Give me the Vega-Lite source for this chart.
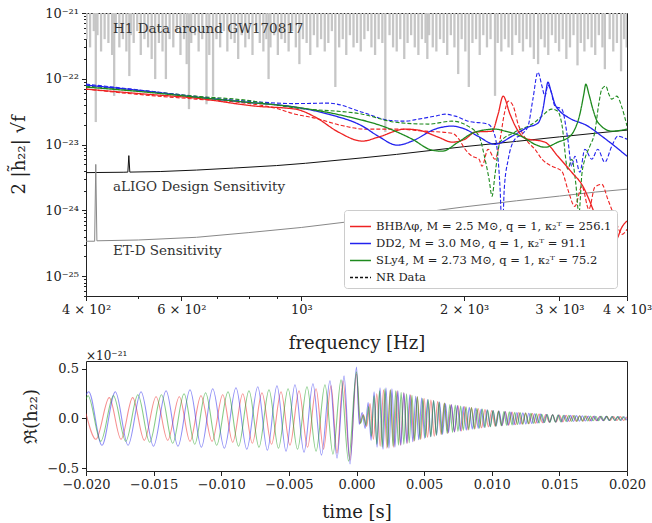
{
"$schema": "https://vega.github.io/schema/vega-lite/v6.json",
"padding": {"left": 10, "top": 6, "right": 0, "bottom": 0},
"spacing": -4,
"config": {
  "font": "DejaVu Serif",
  "view": {"stroke": "#222", "strokeWidth": 1},
  "axis": {"domain": false, "grid": false, "tickColor": "#222", "labelColor": "#222", "labelFont": "DejaVu Serif", "labelFontSize": 13, "titleFont": "DejaVu Serif", "titleFontSize": 18, "titleFontWeight": "normal", "titleColor": "#222", "labelPadding": 3}
},
"vconcat": [
{
  "width": 541, "height": 283,
  "layer": [
    {
      "data": {"values": [
        {"f":401,"a":4.0e-22},{"f":407,"a":3.0e-22},{"f":413.5,"a":5.3e-22},{"f":417,"a":2.2e-23},{"f":420,"a":4.6e-22},{"f":426.5,"a":2.6e-22},{"f":433,"a":4.0e-22},{"f":440,"a":3.5e-22},{"f":447,"a":2.3e-22},{"f":451,"a":5.5e-23},{"f":454,"a":6.1e-22},{"f":461,"a":3.0e-22},{"f":468,"a":4.0e-22},{"f":475,"a":2.6e-22},{"f":481,"a":1.1e-22},{"f":484,"a":4.6e-22},{"f":490,"a":3.5e-22},{"f":497.5,"a":5.3e-22},{"f":505,"a":2.3e-22},{"f":513,"a":4.0e-22},{"f":521,"a":3.0e-22},{"f":529,"a":2.0e-22},{"f":537,"a":9.9e-23},{"f":545.5,"a":3.5e-22},{"f":554,"a":2.6e-22},{"f":562,"a":9.9e-23},{"f":571,"a":4.0e-22},{"f":580,"a":3.0e-22},{"f":589,"a":5.3e-22},{"f":598,"a":2.3e-22},{"f":607,"a":4.0e-22},{"f":614,"a":1.67e-22},{"f":620,"a":3.46e-23},{"f":626,"a":3.5e-22},{"f":636,"a":4.6e-22},{"f":646,"a":2.6e-22},{"f":656,"a":4.0e-22},{"f":668,"a":4.1e-23},{"f":676,"a":2.3e-22},{"f":687,"a":5.5e-23},{"f":697,"a":4.0e-22},{"f":708,"a":3.0e-22},{"f":719,"a":5.3e-22},{"f":730,"a":2.6e-22},{"f":741.5,"a":4.0e-22},{"f":753,"a":3.5e-22},{"f":764.5,"a":2.0e-22},{"f":776,"a":4.6e-22},{"f":788,"a":3.0e-22},{"f":800,"a":4.0e-22},{"f":812.5,"a":2.3e-22},{"f":825,"a":5.3e-22},{"f":838,"a":3.5e-22},{"f":851,"a":2.6e-22},{"f":862,"a":4.0e-22},{"f":870,"a":9.9e-23},{"f":877,"a":3.0e-22},{"f":891,"a":4.6e-22},{"f":905,"a":2.3e-22},{"f":919,"a":4.0e-22},{"f":933,"a":3.5e-22},{"f":947.5,"a":2.6e-22},{"f":962,"a":5.3e-22},{"f":977,"a":3.0e-22},{"f":992,"a":1.67e-22},{"f":1007,"a":4.0e-22},{"f":1023,"a":3.5e-22},{"f":1039,"a":2.3e-22},{"f":1055,"a":4.6e-22},{"f":1071,"a":3.0e-22},{"f":1088,"a":4.0e-22},{"f":1105,"a":2.6e-22},{"f":1122,"a":3.5e-22},{"f":1139,"a":5.3e-22},{"f":1156,"a":7.5e-23},{"f":1175,"a":3.0e-22},{"f":1193,"a":4.0e-22},{"f":1211,"a":2.3e-22},{"f":1230,"a":4.6e-22},{"f":1249,"a":3.0e-22},{"f":1268,"a":3.5e-22},{"f":1288,"a":2.6e-22},{"f":1308,"a":4.0e-22},{"f":1328,"a":5.3e-22},{"f":1348,"a":3.0e-22},{"f":1369,"a":2.3e-22},{"f":1390,"a":4.0e-22},{"f":1412,"a":3.5e-22},{"f":1430,"a":1.55e-23},{"f":1456,"a":4.6e-22},{"f":1478,"a":3.0e-22},{"f":1501,"a":2.6e-22},{"f":1524,"a":4.0e-22},{"f":1550,"a":2.0e-22},{"f":1572,"a":3.5e-22},{"f":1596,"a":4.6e-22},{"f":1621,"a":3.0e-22},{"f":1646,"a":2.3e-22},{"f":1671,"a":4.0e-22},{"f":1697,"a":3.5e-22},{"f":1710,"a":2.0e-22},{"f":1723,"a":4.6e-22},{"f":1750,"a":3.0e-22},{"f":1777,"a":2.6e-22},{"f":1805,"a":4.0e-22},{"f":1833,"a":3.5e-22},{"f":1861,"a":2.3e-22},{"f":1890,"a":4.6e-22},{"f":1919,"a":3.0e-22},{"f":1950,"a":1.18e-22},{"f":1979,"a":4.0e-22},{"f":2010,"a":2.6e-22},{"f":2040,"a":7.5e-23},{"f":2072,"a":3.5e-22},{"f":2104,"a":4.0e-22},{"f":2137,"a":2.3e-22},{"f":2170,"a":4.6e-22},{"f":2204,"a":3.0e-22},{"f":2238,"a":4.0e-22},{"f":2281,"a":5.5e-23},{"f":2307,"a":3.5e-22},{"f":2343,"a":2.6e-22},{"f":2379,"a":4.0e-22},{"f":2416,"a":3.0e-22},{"f":2454,"a":2.3e-22},{"f":2492,"a":4.6e-22},{"f":2530,"a":3.5e-22},{"f":2569,"a":2.6e-22},{"f":2609,"a":4.0e-22},{"f":2650,"a":3.0e-22},{"f":2691,"a":2.0e-22},{"f":2740,"a":1.67e-22},{"f":2775,"a":4.0e-22},{"f":2818,"a":3.0e-22},{"f":2861,"a":2.3e-22},{"f":2906,"a":4.6e-22},{"f":2951,"a":3.5e-22},{"f":2996,"a":2.6e-22},{"f":3043,"a":4.0e-22},{"f":3090,"a":2.0e-22},{"f":3138,"a":3.0e-22},{"f":3186,"a":4.6e-22},{"f":3240,"a":1.6e-22},{"f":3286,"a":3.5e-22},{"f":3337,"a":2.6e-22},{"f":3388,"a":4.0e-22},{"f":3441,"a":3.0e-22},{"f":3494,"a":2.3e-22},{"f":3548,"a":4.6e-22},{"f":3603,"a":3.0e-22},{"f":3640,"a":1.4e-22},{"f":3716,"a":4.0e-22},{"f":3773,"a":2.6e-22},{"f":3832,"a":3.5e-22},{"f":3900,"a":1.3e-22},{"f":3951,"a":4.0e-22},{"f":3995,"a":3.0e-22}
      ]},
      "mark": {"type": "rule", "color": "#c6c6c6", "strokeWidth": 2.3, "clip": true},
      "encoding": {
        "x": {"field": "f", "type": "quantitative", "scale": {"type": "log", "domain": [400, 4000], "nice": false},
          "axis": {"title": "frequency [Hz]", "values": [400,500,600,700,800,900,1000,2000,3000,4000],
            "labelExpr": "datum.value == 400 ? '4 × 10²' : datum.value == 600 ? '6 × 10²' : datum.value == 1000 ? '10³' : datum.value == 2000 ? '2 × 10³' : datum.value == 3000 ? '3 × 10³' : datum.value == 4000 ? '4 × 10³' : ''",
            "tickSize": {"condition": {"test": "datum.value == 400 || datum.value == 600 || datum.value == 1000 || datum.value == 2000 || datum.value == 3000 || datum.value == 4000", "value": 4.5}, "value": 2.5},
            "labelOverlap": false, "labelFlush": false, "titlePadding": 18}},
        "y": {"field": "a", "type": "quantitative", "scale": {"type": "log", "domain": [5e-26, 1e-21], "nice": false},
          "axis": {"title": "2 |h̃₂₂| √f", "values": [5e-26,6e-26,7e-26,8e-26,9e-26,1e-25,2e-25,3e-25,4e-25,5e-25,6e-25,7e-25,8e-25,9e-25,1e-24,2e-24,3e-24,4e-24,5e-24,6e-24,7e-24,8e-24,9e-24,1e-23,2e-23,3e-23,4e-23,5e-23,6e-23,7e-23,8e-23,9e-23,1e-22,2e-22,3e-22,4e-22,5e-22,6e-22,7e-22,8e-22,9e-22,1e-21],
            "labelExpr": "datum.value == 1e-21 ? '10⁻²¹' : datum.value == 1e-22 ? '10⁻²²' : datum.value == 1e-23 ? '10⁻²³' : datum.value == 1e-24 ? '10⁻²⁴' : datum.value == 1e-25 ? '10⁻²⁵' : ''",
            "tickSize": {"condition": {"test": "datum.value == 1e-21 || datum.value == 1e-22 || datum.value == 1e-23 || datum.value == 1e-24 || datum.value == 1e-25", "value": 4.5}, "value": 2.5},
            "labelOverlap": false, "titlePadding": 16}},
        "y2": {"datum": 1e-21}
      }
    },
    {
      "data": {"values": [
        {"f":400,"a":3.75e-24},{"f":470,"a":3.8e-24},{"f":478,"a":3.82e-24},{"f":480,"a":6.8e-24},{"f":482,"a":3.82e-24},{"f":550,"a":3.9e-24},{"f":640,"a":4.1e-24},{"f":750,"a":4.4e-24},{"f":900,"a":4.8e-24},{"f":1018,"a":5.2e-24},{"f":1300,"a":6.3e-24},{"f":1500,"a":7.1e-24},{"f":2000,"a":9.3e-24},{"f":2500,"a":1.12e-23},{"f":3000,"a":1.31e-23},{"f":3500,"a":1.49e-23},{"f":4000,"a":1.66e-23}
      ]},
      "mark": {"type": "line", "color": "#111", "strokeWidth": 1, "clip": true},
      "encoding": {
        "x": {"field": "f", "type": "quantitative", "scale": {"type": "log", "domain": [400, 4000], "nice": false}},
        "y": {"field": "a", "type": "quantitative", "scale": {"type": "log", "domain": [5e-26, 1e-21], "nice": false}}
      }
    },
    {
      "data": {"values": [
        {"f":400,"a":3.4e-25},{"f":415,"a":3.4e-25},{"f":417,"a":5.0e-24},{"f":419,"a":3.45e-25},{"f":500,"a":3.55e-25},{"f":640,"a":3.9e-25},{"f":800,"a":4.6e-25},{"f":1000,"a":5.5e-25},{"f":1200,"a":6.6e-25},{"f":1500,"a":8.3e-25},{"f":2000,"a":1.13e-24},{"f":2500,"a":1.4e-24},{"f":3000,"a":1.65e-24},{"f":3500,"a":1.9e-24},{"f":4000,"a":2.1e-24}
      ]},
      "mark": {"type": "line", "color": "#888", "strokeWidth": 1, "clip": true},
      "encoding": {
        "x": {"field": "f", "type": "quantitative", "scale": {"type": "log", "domain": [400, 4000], "nice": false}},
        "y": {"field": "a", "type": "quantitative", "scale": {"type": "log", "domain": [5e-26, 1e-21], "nice": false}}
      }
    },
    {
      "data": {"values": [
        {"m":"b","f":400,"a":8.3e-23},{"m":"b","f":516,"a":6.6e-23},{"m":"b","f":638,"a":5.4e-23},{"m":"b","f":789,"a":4.6e-23},{"m":"b","f":975,"a":4.2e-23},{"m":"b","f":1122,"a":4.27e-23},{"m":"b","f":1297,"a":3.11e-23},{"m":"b","f":1449,"a":2.35e-23},{"m":"b","f":1557,"a":2.27e-23},{"m":"b","f":1646,"a":2.44e-23},{"m":"b","f":1768,"a":2.71e-23},{"m":"b","f":1845,"a":2.9e-23},{"m":"b","f":1925,"a":2.71e-23},{"m":"b","f":2034,"a":2.27e-23},{"m":"b","f":2214,"a":2.05e-23},{"m":"b","f":2281,"a":1.34e-23},{"m":"b","f":2311,"a":6.0e-24},{"m":"b","f":2331,"a":2.09e-24},{"m":"b","f":2352,"a":3.63e-25},{"m":"b","f":2372,"a":2.09e-24},{"m":"b","f":2413,"a":6.0e-24},{"m":"b","f":2483,"a":1.21e-23},{"m":"b","f":2558,"a":1.44e-23},{"m":"b","f":2625,"a":1.91e-23},{"m":"b","f":2680,"a":4.91e-23},{"m":"b","f":2738,"a":1.26e-22},{"m":"b","f":2785,"a":7.74e-23},{"m":"b","f":2821,"a":5.45e-23},{"m":"b","f":2857,"a":8.02e-23},{"m":"b","f":2894,"a":6.5e-23},{"m":"b","f":2943,"a":3.84e-23},{"m":"b","f":3031,"a":3.46e-23},{"m":"b","f":3109,"a":1.21e-23},{"m":"b","f":3161,"a":4.69e-24},{"m":"b","f":3204,"a":6.66e-24},{"m":"b","f":3273,"a":3.8e-24},{"m":"b","f":3343,"a":8.51e-24},{"m":"b","f":3444,"a":6.0e-24},{"m":"b","f":3532,"a":8.51e-24},{"m":"b","f":3639,"a":5.4e-24},{"m":"b","f":3749,"a":9.46e-24},{"m":"b","f":3845,"a":1.34e-23},{"m":"b","f":4000,"a":1.21e-23},
        {"m":"r","f":400,"a":6.97e-23},{"m":"r","f":516,"a":5.65e-23},{"m":"r","f":638,"a":4.91e-23},{"m":"r","f":789,"a":4.27e-23},{"m":"r","f":896,"a":3.58e-23},{"m":"r","f":975,"a":2.9e-23},{"m":"r","f":1062,"a":2.52e-23},{"m":"r","f":1181,"a":1.97e-23},{"m":"r","f":1313,"a":1.72e-23},{"m":"r","f":1492,"a":1.72e-23},{"m":"r","f":1695,"a":1.6e-23},{"m":"r","f":1900,"a":1.49e-23},{"m":"r","f":1956,"a":1.21e-23},{"m":"r","f":2008,"a":8.51e-24},{"m":"r","f":2069,"a":6.66e-24},{"m":"r","f":2131,"a":6.0e-24},{"m":"r","f":2158,"a":4.69e-24},{"m":"r","f":2214,"a":8.51e-24},{"m":"r","f":2281,"a":6.0e-24},{"m":"r","f":2331,"a":1.21e-23},{"m":"r","f":2372,"a":2.9e-23},{"m":"r","f":2413,"a":4.58e-23},{"m":"r","f":2465,"a":3.84e-23},{"m":"r","f":2516,"a":2.05e-23},{"m":"r","f":2569,"a":1.44e-23},{"m":"r","f":2625,"a":1.09e-23},{"m":"r","f":2703,"a":8.51e-24},{"m":"r","f":2785,"a":6.0e-24},{"m":"r","f":2906,"a":4.69e-24},{"m":"r","f":3031,"a":3.94e-24},{"m":"r","f":3109,"a":2.09e-24},{"m":"r","f":3204,"a":1.15e-24},{"m":"r","f":3301,"a":2.33e-24},{"m":"r","f":3401,"a":1.04e-24},{"m":"r","f":3488,"a":2.25e-24},{"m":"r","f":3594,"a":2.49e-24},{"m":"r","f":3686,"a":1.48e-24},{"m":"r","f":3797,"a":7.85e-25},{"m":"r","f":3913,"a":4.32e-25},{"m":"r","f":4000,"a":5.15e-25},
        {"m":"g","f":400,"a":7.74e-23},{"m":"g","f":516,"a":6.5e-23},{"m":"g","f":638,"a":5.45e-23},{"m":"g","f":789,"a":4.74e-23},{"m":"g","f":975,"a":3.6e-23},{"m":"g","f":1297,"a":2.9e-23},{"m":"g","f":1492,"a":2.19e-23},{"m":"g","f":1717,"a":2.05e-23},{"m":"g","f":1900,"a":2.27e-23},{"m":"g","f":2034,"a":1.91e-23},{"m":"g","f":2131,"a":1.34e-23},{"m":"g","f":2186,"a":6.0e-24},{"m":"g","f":2224,"a":2.97e-24},{"m":"g","f":2252,"a":1.64e-24},{"m":"g","f":2281,"a":3.54e-24},{"m":"g","f":2331,"a":1.09e-23},{"m":"g","f":2483,"a":1.55e-23},{"m":"g","f":2703,"a":2.19e-23},{"m":"g","f":2785,"a":2.71e-23},{"m":"g","f":2906,"a":3.46e-23},{"m":"g","f":2980,"a":3.22e-23},{"m":"g","f":3031,"a":2.05e-23},{"m":"g","f":3109,"a":4.23e-24},{"m":"g","f":3161,"a":6.0e-24},{"m":"g","f":3218,"a":2.49e-24},{"m":"g","f":3259,"a":8.73e-25},{"m":"g","f":3301,"a":3.54e-24},{"m":"g","f":3343,"a":6.0e-24},{"m":"g","f":3415,"a":9.46e-24},{"m":"g","f":3488,"a":1.55e-23},{"m":"g","f":3547,"a":4.12e-23},{"m":"g","f":3594,"a":6.97e-23},{"m":"g","f":3655,"a":7.74e-23},{"m":"g","f":3702,"a":5.85e-23},{"m":"g","f":3749,"a":4.91e-23},{"m":"g","f":3829,"a":5.45e-23},{"m":"g","f":3913,"a":3.71e-23},{"m":"g","f":4000,"a":1.91e-23}
      ]},
      "mark": {"type": "line", "interpolate": "monotone", "strokeWidth": 1.1, "strokeDash": [4, 2], "clip": true},
      "encoding": {
        "x": {"field": "f", "type": "quantitative", "scale": {"type": "log", "domain": [400, 4000], "nice": false}},
        "y": {"field": "a", "type": "quantitative", "scale": {"type": "log", "domain": [5e-26, 1e-21], "nice": false}},
        "color": {"field": "m", "type": "nominal", "scale": {"domain": ["r", "b", "g", "n"], "range": ["#ee2222", "#2222ee", "#1e8a1e", "#111111"]}},
        "detail": {"field": "m"}
      }
    },
    {
      "data": {"values": [
        {"m":"b","f":400,"a":8.02e-23},{"m":"b","f":516,"a":6.5e-23},{"m":"b","f":638,"a":5.27e-23},{"m":"b","f":789,"a":4.42e-23},{"m":"b","f":975,"a":3.71e-23},{"m":"b","f":1122,"a":2.9e-23},{"m":"b","f":1297,"a":1.91e-23},{"m":"b","f":1388,"a":1.34e-23},{"m":"b","f":1505,"a":9.8e-24},{"m":"b","f":1603,"a":1.13e-23},{"m":"b","f":1768,"a":1.72e-23},{"m":"b","f":1900,"a":1.91e-23},{"m":"b","f":2008,"a":1.72e-23},{"m":"b","f":2122,"a":1.34e-23},{"m":"b","f":2281,"a":1.01e-23},{"m":"b","f":2452,"a":1.34e-23},{"m":"b","f":2625,"a":1.84e-23},{"m":"b","f":2738,"a":2.12e-23},{"m":"b","f":2797,"a":3.46e-23},{"m":"b","f":2833,"a":6.5e-23},{"m":"b","f":2857,"a":8.91e-23},{"m":"b","f":2894,"a":6.5e-23},{"m":"b","f":2943,"a":4.12e-23},{"m":"b","f":3006,"a":3.22e-23},{"m":"b","f":3109,"a":2.61e-23},{"m":"b","f":3386,"a":1.91e-23},{"m":"b","f":3594,"a":1.34e-23},{"m":"b","f":3797,"a":9.46e-24},{"m":"b","f":4000,"a":6.66e-24},
        {"m":"r","f":400,"a":6.97e-23},{"m":"r","f":516,"a":5.85e-23},{"m":"r","f":638,"a":5.08e-23},{"m":"r","f":823,"a":3.84e-23},{"m":"r","f":975,"a":3.46e-23},{"m":"r","f":1062,"a":2.61e-23},{"m":"r","f":1171,"a":1.55e-23},{"m":"r","f":1297,"a":1.13e-23},{"m":"r","f":1388,"a":1.3e-23},{"m":"r","f":1557,"a":1.72e-23},{"m":"r","f":1646,"a":1.66e-23},{"m":"r","f":1791,"a":1.3e-23},{"m":"r","f":1900,"a":1.09e-23},{"m":"r","f":2008,"a":1.21e-23},{"m":"r","f":2095,"a":1.55e-23},{"m":"r","f":2252,"a":1.6e-23},{"m":"r","f":2311,"a":2.9e-23},{"m":"r","f":2361,"a":5.45e-23},{"m":"r","f":2431,"a":2.9e-23},{"m":"r","f":2504,"a":1.72e-23},{"m":"r","f":2591,"a":1.25e-23},{"m":"r","f":2821,"a":1.09e-23},{"m":"r","f":2980,"a":6.66e-24},{"m":"r","f":3161,"a":3.8e-24},{"m":"r","f":3315,"a":2.33e-24},{"m":"r","f":3401,"a":1.48e-24},{"m":"r","f":3488,"a":8.73e-25},{"m":"r","f":3608,"a":4.32e-25},{"m":"r","f":3717,"a":3.05e-25},{"m":"r","f":3829,"a":3.63e-25},{"m":"r","f":3913,"a":5.53e-25},{"m":"r","f":4000,"a":6.9e-25},
        {"m":"g","f":400,"a":7.48e-23},{"m":"g","f":516,"a":6.28e-23},{"m":"g","f":638,"a":5.27e-23},{"m":"g","f":789,"a":4.42e-23},{"m":"g","f":975,"a":3.71e-23},{"m":"g","f":1206,"a":2.71e-23},{"m":"g","f":1430,"a":1.84e-23},{"m":"g","f":1603,"a":1.21e-23},{"m":"g","f":1745,"a":8.22e-24},{"m":"g","f":1822,"a":7.94e-24},{"m":"g","f":1950,"a":1.09e-23},{"m":"g","f":2095,"a":1.55e-23},{"m":"g","f":2281,"a":1.72e-23},{"m":"g","f":2380,"a":1.6e-23},{"m":"g","f":2569,"a":1.3e-23},{"m":"g","f":2703,"a":1.01e-23},{"m":"g","f":2821,"a":9.13e-24},{"m":"g","f":2980,"a":1.09e-23},{"m":"g","f":3137,"a":1.34e-23},{"m":"g","f":3204,"a":1.72e-23},{"m":"g","f":3273,"a":2.9e-23},{"m":"g","f":3329,"a":5.85e-23},{"m":"g","f":3357,"a":8.3e-23},{"m":"g","f":3401,"a":5.85e-23},{"m":"g","f":3459,"a":3.46e-23},{"m":"g","f":3532,"a":2.19e-23},{"m":"g","f":3749,"a":1.6e-23},{"m":"g","f":4000,"a":1.72e-23}
      ]},
      "mark": {"type": "line", "interpolate": "monotone", "strokeWidth": 1.3, "clip": true},
      "encoding": {
        "x": {"field": "f", "type": "quantitative", "scale": {"type": "log", "domain": [400, 4000], "nice": false}},
        "y": {"field": "a", "type": "quantitative", "scale": {"type": "log", "domain": [5e-26, 1e-21], "nice": false}},
        "color": {"field": "m", "type": "nominal", "scale": {"domain": ["r", "b", "g", "n"], "range": ["#ee2222", "#2222ee", "#1e8a1e", "#111111"]},
          "legend": {"title": null, "orient": "none", "legendX": 258, "legendY": 197, "fillColor": "#ffffff", "strokeColor": "#cccccc", "cornerRadius": 3, "padding": 5,
            "symbolType": "stroke", "symbolSize": 440, "symbolStrokeWidth": 1.5, "labelFont": "DejaVu Serif", "labelFontSize": 11.5, "labelColor": "#222", "labelLimit": 400, "rowPadding": 0,
            "labelExpr": "datum.label == 'r' ? 'BHBΛφ, M = 2.5 M⊙, q = 1, κ₂ᵀ = 256.1' : datum.label == 'b' ? 'DD2, M = 3.0 M⊙, q = 1, κ₂ᵀ = 91.1' : datum.label == 'g' ? 'SLy4, M = 2.73 M⊙, q = 1, κ₂ᵀ = 75.2' : 'NR Data'"}},
        "strokeDash": {"field": "m", "type": "nominal", "scale": {"domain": ["r", "b", "g", "n"], "range": [[1, 0], [1, 0], [1, 0], [3, 2]]}}
      }
    },
    {
      "data": {"values": [
        {"f":448.7,"a":5.7e-22,"t":"H1 Data around GW170817"},
        {"f":448.7,"a":2.25e-24,"t":"aLIGO Design Sensitivity"},
        {"f":448.7,"a":2.38e-25,"t":"ET-D Sensitivity"}
      ]},
      "mark": {"type": "text", "align": "left", "baseline": "middle", "font": "DejaVu Serif", "fontSize": 13.5, "color": "#333"},
      "encoding": {
        "x": {"field": "f", "type": "quantitative", "scale": {"type": "log", "domain": [400, 4000], "nice": false}},
        "y": {"field": "a", "type": "quantitative", "scale": {"type": "log", "domain": [5e-26, 1e-21], "nice": false}},
        "text": {"field": "t"}
      }
    }
  ]
},
{
  "width": 541, "height": 110,
  "title": {"text": "×10⁻²¹", "anchor": "start", "frame": "group", "fontSize": 12, "fontWeight": "normal", "font": "DejaVu Serif", "color": "#222", "offset": -2},
  "layer": [
    {
      "data": {"values": [
        {"t":-0.02,"h":0.05},{"t":-0.01926,"h":-0.21},{"t":-0.01828,"h":0.21},{"t":-0.01741,"h":-0.21},{"t":-0.01655,"h":0.21},{"t":-0.01569,"h":-0.22},{"t":-0.01482,"h":0.22},{"t":-0.01396,"h":-0.22},{"t":-0.0131,"h":0.22},{"t":-0.01231,"h":-0.23},{"t":-0.0115,"h":0.23},{"t":-0.01068,"h":-0.23},{"t":-0.00989,"h":0.24},{"t":-0.00915,"h":-0.24},{"t":-0.00841,"h":0.25},{"t":-0.0077,"h":-0.25},{"t":-0.00699,"h":0.26},{"t":-0.00628,"h":-0.26},{"t":-0.00558,"h":0.27},{"t":-0.00492,"h":-0.27},{"t":-0.00425,"h":0.28},{"t":-0.00362,"h":-0.29},{"t":-0.00299,"h":0.3},{"t":-0.00244,"h":-0.31},{"t":-0.00188,"h":0.33},{"t":-0.00144,"h":-0.35},{"t":-0.001,"h":0.38},{"t":-0.00048,"h":-0.42},{"t":0,"h":0.45},{"t":0.00025,"h":-0.05},
        {"t":0.0005,"h":0.04},{"t":0.00075,"h":-0.08},{"t":0.001,"h":0.15},{"t":0.00125,"h":-0.21},{"t":0.0015,"h":0.25},{"t":0.00175,"h":-0.28},{"t":0.002,"h":0.29},{"t":0.00225,"h":-0.3},{"t":0.0025,"h":0.29},{"t":0.00275,"h":-0.29},{"t":0.003,"h":0.28},{"t":0.00325,"h":-0.27},{"t":0.0035,"h":0.26},{"t":0.00375,"h":-0.25},{"t":0.004,"h":0.24},{"t":0.00425,"h":-0.23},{"t":0.0045,"h":0.22},{"t":0.00475,"h":-0.21},{"t":0.005,"h":0.2},{"t":0.00525,"h":-0.19},{"t":0.0055,"h":0.185},{"t":0.00575,"h":-0.18},{"t":0.006,"h":0.17},{"t":0.00625,"h":-0.16},{"t":0.0065,"h":0.155},{"t":0.00675,"h":-0.15},{"t":0.007,"h":0.14},{"t":0.00725,"h":-0.135},{"t":0.0075,"h":0.13},{"t":0.00775,"h":-0.125},{"t":0.008,"h":0.12},{"t":0.00825,"h":-0.115},{"t":0.0085,"h":0.11},{"t":0.00875,"h":-0.105},{"t":0.009,"h":0.1},{"t":0.00925,"h":-0.095},{"t":0.0095,"h":0.09},{"t":0.00975,"h":-0.085},{"t":0.01,"h":0.08},{"t":0.01025,"h":-0.078},{"t":0.0105,"h":0.075},{"t":0.01075,"h":-0.072},{"t":0.011,"h":0.07},{"t":0.01125,"h":-0.067},{"t":0.0115,"h":0.065},{"t":0.01175,"h":-0.062},{"t":0.012,"h":0.06},{"t":0.01225,"h":-0.057},{"t":0.0125,"h":0.055},{"t":0.01275,"h":-0.052},{"t":0.013,"h":0.05},{"t":0.01325,"h":-0.047},{"t":0.0135,"h":0.045},{"t":0.01375,"h":-0.042},{"t":0.014,"h":0.04},{"t":0.01425,"h":-0.038},{"t":0.0145,"h":0.037},{"t":0.01475,"h":-0.036},{"t":0.015,"h":0.035},{"t":0.01525,"h":-0.034},{"t":0.0155,"h":0.032},{"t":0.01575,"h":-0.031},{"t":0.016,"h":0.03},{"t":0.01625,"h":-0.029},{"t":0.0165,"h":0.028},{"t":0.01675,"h":-0.027},{"t":0.017,"h":0.025},{"t":0.01725,"h":-0.024},{"t":0.0175,"h":0.023},{"t":0.01775,"h":-0.023},{"t":0.018,"h":0.022},{"t":0.01825,"h":-0.022},{"t":0.0185,"h":0.021},{"t":0.01875,"h":-0.021},{"t":0.019,"h":0.02},{"t":0.01925,"h":-0.02},{"t":0.0195,"h":0.019},{"t":0.01975,"h":-0.019},{"t":0.02,"h":0.018}
      ]},
      "mark": {"type": "line", "interpolate": "monotone", "color": "#ee3333", "opacity": 0.55, "strokeWidth": 1.1, "clip": true},
      "encoding": {
        "x": {"field": "t", "type": "quantitative", "scale": {"domain": [-0.02, 0.02], "nice": false, "zero": false},
          "axis": {"title": "time [s]", "values": [-0.02,-0.015,-0.01,-0.005,0,0.005,0.01,0.015,0.02], "format": ".3f", "labelExpr": "replace(datum.label, '-', '−')", "tickSize": 4.5, "labelFlush": false, "labelOverlap": false, "titlePadding": 12}},
        "y": {"field": "h", "type": "quantitative", "scale": {"domain": [-0.53, 0.58], "nice": false, "zero": false},
          "axis": {"title": "ℜ(h₂₂)", "values": [-0.5, 0, 0.5], "format": ".1f", "labelExpr": "replace(datum.label, '-', '−')", "tickSize": 4.5, "titlePadding": 6}}
      }
    },
    {
      "data": {"values": [
        {"t":-0.02,"h":0.24},{"t":-0.0198,"h":0.27},{"t":-0.01882,"h":-0.27},{"t":-0.01783,"h":0.27},{"t":-0.01689,"h":-0.27},{"t":-0.01593,"h":0.27},{"t":-0.01501,"h":-0.28},{"t":-0.01408,"h":0.28},{"t":-0.0132,"h":-0.28},{"t":-0.01231,"h":0.29},{"t":-0.01147,"h":-0.29},{"t":-0.01063,"h":0.3},{"t":-0.00977,"h":-0.3},{"t":-0.00891,"h":0.31},{"t":-0.00811,"h":-0.31},{"t":-0.0073,"h":0.32},{"t":-0.00659,"h":-0.32},{"t":-0.00588,"h":0.33},{"t":-0.00521,"h":-0.33},{"t":-0.00455,"h":0.34},{"t":-0.00388,"h":-0.34},{"t":-0.00322,"h":0.35},{"t":-0.00259,"h":-0.37},{"t":-0.00196,"h":0.38},{"t":-0.00144,"h":-0.4},{"t":-0.00092,"h":0.43},{"t":-0.00048,"h":-0.46},{"t":0,"h":0.52},
        {"t":0.0002,"h":-0.06},{"t":0.00042,"h":0.06},{"t":0.00064,"h":-0.1},{"t":0.00086,"h":0.16},{"t":0.00108,"h":-0.22},{"t":0.0013,"h":0.27},{"t":0.00152,"h":-0.29},{"t":0.00174,"h":0.31},{"t":0.00196,"h":-0.31},{"t":0.00218,"h":0.31},{"t":0.0024,"h":-0.3},{"t":0.00262,"h":0.3},{"t":0.00284,"h":-0.29},{"t":0.00306,"h":0.28},{"t":0.00328,"h":-0.27},{"t":0.0035,"h":0.26},{"t":0.00372,"h":-0.25},{"t":0.00394,"h":0.24},{"t":0.00416,"h":-0.235},{"t":0.00438,"h":0.225},{"t":0.0046,"h":-0.215},{"t":0.00482,"h":0.205},{"t":0.00504,"h":-0.2},{"t":0.00526,"h":0.19},{"t":0.00548,"h":-0.185},{"t":0.0057,"h":0.18},{"t":0.00592,"h":-0.17},{"t":0.00614,"h":0.165},{"t":0.00636,"h":-0.16},{"t":0.00658,"h":0.15},{"t":0.0068,"h":-0.145},{"t":0.00702,"h":0.14},{"t":0.00724,"h":-0.135},{"t":0.00746,"h":0.13},{"t":0.00768,"h":-0.125},{"t":0.0079,"h":0.12},{"t":0.00812,"h":-0.118},{"t":0.00834,"h":0.112},{"t":0.00856,"h":-0.108},{"t":0.00878,"h":0.104},{"t":0.009,"h":-0.1},{"t":0.00922,"h":0.095},{"t":0.00944,"h":-0.091},{"t":0.00966,"h":0.087},{"t":0.00988,"h":-0.082},{"t":0.0101,"h":0.079},{"t":0.01032,"h":-0.076},{"t":0.01054,"h":0.074},{"t":0.01076,"h":-0.072},{"t":0.01098,"h":0.07},{"t":0.0112,"h":-0.068},{"t":0.01142,"h":0.066},{"t":0.01164,"h":-0.063},{"t":0.01186,"h":0.061},{"t":0.01208,"h":-0.059},{"t":0.0123,"h":0.057},{"t":0.01252,"h":-0.055},{"t":0.01274,"h":0.052},{"t":0.01296,"h":-0.05},{"t":0.01318,"h":0.048},{"t":0.0134,"h":-0.046},{"t":0.01362,"h":0.044},{"t":0.01384,"h":-0.042},{"t":0.01406,"h":0.04},{"t":0.01428,"h":-0.038},{"t":0.0145,"h":0.037},{"t":0.01472,"h":-0.036},{"t":0.01494,"h":0.035},{"t":0.01516,"h":-0.034},{"t":0.01538,"h":0.033},{"t":0.0156,"h":-0.032},{"t":0.01582,"h":0.031},{"t":0.01604,"h":-0.03},{"t":0.01626,"h":0.029},{"t":0.01648,"h":-0.028},{"t":0.0167,"h":0.027},{"t":0.01692,"h":-0.026},{"t":0.01714,"h":0.025},{"t":0.01736,"h":-0.024},{"t":0.01758,"h":0.024},{"t":0.0178,"h":-0.023},{"t":0.01802,"h":0.022},{"t":0.01824,"h":-0.022},{"t":0.01846,"h":0.021},{"t":0.01868,"h":-0.021},{"t":0.0189,"h":0.02},{"t":0.01912,"h":-0.02},{"t":0.01934,"h":0.019},{"t":0.01956,"h":-0.019},{"t":0.01978,"h":0.018},{"t":0.02,"h":-0.018}
      ]},
      "mark": {"type": "line", "interpolate": "monotone", "color": "#3333ee", "opacity": 0.55, "strokeWidth": 1.1, "clip": true},
      "encoding": {
        "x": {"field": "t", "type": "quantitative", "scale": {"domain": [-0.02, 0.02], "nice": false, "zero": false}},
        "y": {"field": "h", "type": "quantitative", "scale": {"domain": [-0.53, 0.58], "nice": false, "zero": false}}
      }
    },
    {
      "data": {"values": [
        {"t":-0.02,"h":0.2},{"t":-0.01985,"h":0.23},{"t":-0.01891,"h":-0.23},{"t":-0.01797,"h":0.23},{"t":-0.01706,"h":-0.23},{"t":-0.01616,"h":0.24},{"t":-0.01529,"h":-0.24},{"t":-0.01442,"h":0.24},{"t":-0.01359,"h":-0.25},{"t":-0.01275,"h":0.25},{"t":-0.01196,"h":-0.26},{"t":-0.01116,"h":0.26},{"t":-0.01034,"h":-0.27},{"t":-0.0095,"h":0.27},{"t":-0.00872,"h":-0.28},{"t":-0.00795,"h":0.28},{"t":-0.00721,"h":-0.29},{"t":-0.00647,"h":0.29},{"t":-0.00577,"h":-0.3},{"t":-0.00506,"h":0.3},{"t":-0.00436,"h":-0.31},{"t":-0.00366,"h":0.32},{"t":-0.00299,"h":-0.33},{"t":-0.00233,"h":0.34},{"t":-0.00174,"h":-0.36},{"t":-0.00114,"h":0.39},{"t":-0.00059,"h":-0.43},{"t":0,"h":0.47},
        {"t":0.0003,"h":-0.05},{"t":0.0005,"h":0.03},{"t":0.0007,"h":-0.07},{"t":0.0009,"h":0.12},{"t":0.0011,"h":-0.18},{"t":0.0013,"h":0.23},{"t":0.0015,"h":-0.26},{"t":0.0017,"h":0.28},{"t":0.0019,"h":-0.29},{"t":0.0021,"h":0.3},{"t":0.0023,"h":-0.29},{"t":0.0025,"h":0.29},{"t":0.0027,"h":-0.28},{"t":0.0029,"h":0.28},{"t":0.0031,"h":-0.27},{"t":0.0033,"h":0.265},{"t":0.0035,"h":-0.26},{"t":0.0037,"h":0.25},{"t":0.0039,"h":-0.245},{"t":0.0041,"h":0.235},{"t":0.0043,"h":-0.225},{"t":0.0045,"h":0.22},{"t":0.0047,"h":-0.21},{"t":0.0049,"h":0.2},{"t":0.0051,"h":-0.195},{"t":0.0053,"h":0.19},{"t":0.0055,"h":-0.185},{"t":0.0057,"h":0.18},{"t":0.0059,"h":-0.17},{"t":0.0061,"h":0.165},{"t":0.0063,"h":-0.16},{"t":0.0065,"h":0.155},{"t":0.0067,"h":-0.15},{"t":0.0069,"h":0.14},{"t":0.0071,"h":-0.14},{"t":0.0073,"h":0.135},{"t":0.0075,"h":-0.13},{"t":0.0077,"h":0.125},{"t":0.0079,"h":-0.12},{"t":0.0081,"h":0.118},{"t":0.0083,"h":-0.113},{"t":0.0085,"h":0.11},{"t":0.0087,"h":-0.105},{"t":0.0089,"h":0.102},{"t":0.0091,"h":-0.098},{"t":0.0093,"h":0.095},{"t":0.0095,"h":-0.09},{"t":0.0097,"h":0.086},{"t":0.0099,"h":-0.082},{"t":0.0101,"h":0.079},{"t":0.0103,"h":-0.077},{"t":0.0105,"h":0.075},{"t":0.0107,"h":-0.073},{"t":0.0109,"h":0.071},{"t":0.0111,"h":-0.069},{"t":0.0113,"h":0.067},{"t":0.0115,"h":-0.065},{"t":0.0117,"h":0.063},{"t":0.0119,"h":-0.061},{"t":0.0121,"h":0.059},{"t":0.0123,"h":-0.057},{"t":0.0125,"h":0.055},{"t":0.0127,"h":-0.053},{"t":0.0129,"h":0.051},{"t":0.0131,"h":-0.049},{"t":0.0133,"h":0.047},{"t":0.0135,"h":-0.045},{"t":0.0137,"h":0.043},{"t":0.0139,"h":-0.041},{"t":0.0141,"h":0.04},{"t":0.0143,"h":-0.038},{"t":0.0145,"h":0.037},{"t":0.0147,"h":-0.036},{"t":0.0149,"h":0.035},{"t":0.0151,"h":-0.034},{"t":0.0153,"h":0.033},{"t":0.0155,"h":-0.032},{"t":0.0157,"h":0.031},{"t":0.0159,"h":-0.03},{"t":0.0161,"h":0.03},{"t":0.0163,"h":-0.029},{"t":0.0165,"h":0.028},{"t":0.0167,"h":-0.027},{"t":0.0169,"h":0.026},{"t":0.0171,"h":-0.025},{"t":0.0173,"h":0.024},{"t":0.0175,"h":-0.023},{"t":0.0177,"h":0.023},{"t":0.0179,"h":-0.022},{"t":0.0181,"h":0.022},{"t":0.0183,"h":-0.021},{"t":0.0185,"h":0.021},{"t":0.0187,"h":-0.02},{"t":0.0189,"h":0.02},{"t":0.0191,"h":-0.02},{"t":0.0193,"h":0.019},{"t":0.0195,"h":-0.019},{"t":0.0197,"h":0.018},{"t":0.0199,"h":-0.018}
      ]},
      "mark": {"type": "line", "interpolate": "monotone", "color": "#22a022", "opacity": 0.55, "strokeWidth": 1.1, "clip": true},
      "encoding": {
        "x": {"field": "t", "type": "quantitative", "scale": {"domain": [-0.02, 0.02], "nice": false, "zero": false}},
        "y": {"field": "h", "type": "quantitative", "scale": {"domain": [-0.53, 0.58], "nice": false, "zero": false}}
      }
    }
  ]
}
]
}
